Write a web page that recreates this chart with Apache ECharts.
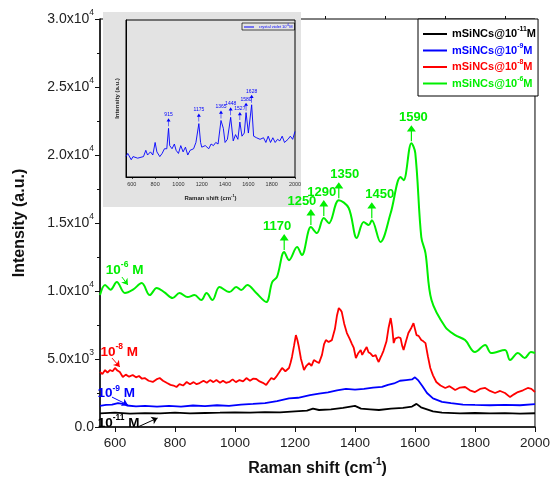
<!DOCTYPE html>
<html>
<head>
<meta charset="utf-8">
<script src="https://cdn.jsdelivr.net/npm/echarts@6/dist/echarts.min.js"></script>
<style>
  html, body { margin: 0; padding: 0; background: #fff; }
  #chart { width: 553px; height: 491px; }
</style>
</head>
<body>
<div id="chart"></div>
<script>
// Raman spectra, [shift cm-1, intensity]
const black11 = [[550,1000],[600,1050],[650,980],[700,1020],[750,1000],[800,1050],[850,1000],[900,1030],[950,1050],[1000,1080],[1050,1050],[1100,1100],[1150,1080],[1200,1150],[1240,1200],[1260,1350],[1280,1250],[1320,1300],[1360,1400],[1400,1550],[1420,1350],[1450,1300],[1480,1250],[1520,1350],[1560,1400],[1590,1500],[1605,1700],[1620,1450],[1640,1300],[1660,1150],[1690,1050],[1750,1000],[1800,1030],[1850,1000],[1900,1020],[1950,990],[2000,1010]];

const blue9 = [[550,1560],[570,1620],[590,1650],[610,1760],[625,1700],[640,1580],[670,1520],[700,1560],[740,1500],[780,1560],[820,1500],[860,1580],[900,1530],[940,1600],[980,1560],[1020,1650],[1060,1700],[1100,1760],[1140,1900],[1180,2100],[1210,2150],[1250,2350],[1280,2450],[1310,2550],[1340,2700],[1370,2800],[1400,2750],[1430,2800],[1460,2900],[1490,2950],[1510,3100],[1530,3200],[1550,3400],[1570,3450],[1590,3500],[1600,3650],[1610,3450],[1625,3000],[1640,2500],[1660,2100],[1690,1850],[1720,1750],[1760,1650],[1800,1620],[1850,1600],[1900,1620],[1950,1600],[2000,1680]];

const red8 = [[550,4040],[558,3900],[567,4190],[575,4000],[583,4190],[592,4100],[600,4340],[608,4150],[616,4040],[626,3680],[636,3850],[647,3700],[659,3820],[670,3650],[680,3750],[690,3550],[699,3600],[712,3400],[726,3310],[738,3500],[749,3600],[760,3400],[772,3250],[785,3100],[795,3050],[805,2940],[815,3150],[827,3050],[839,3310],[850,3150],[862,3300],[872,3150],[882,3230],[895,3400],[906,3250],[917,3450],[928,3300],[938,3450],[950,3250],[960,3400],[970,3250],[981,3310],[992,3500],[1003,3300],[1015,3450],[1027,3350],[1038,3600],[1050,3400],[1060,3550],[1071,3530],[1082,3350],[1093,3250],[1104,3090],[1112,3350],[1121,3600],[1130,3500],[1137,3680],[1147,4000],[1157,4340],[1168,4100],[1180,4340],[1185,4700],[1190,5150],[1197,6000],[1203,6760],[1208,6400],[1213,5880],[1220,5000],[1230,4190],[1238,4500],[1247,4700],[1255,4500],[1263,4920],[1272,4800],[1280,4700],[1290,5300],[1297,6100],[1303,6390],[1312,6250],[1323,6390],[1333,7200],[1340,8200],[1346,8750],[1352,8600],[1356,8450],[1364,7600],[1373,6910],[1382,6500],[1390,6100],[1396,5810],[1403,5070],[1410,5400],[1419,5660],[1424,5300],[1429,5290],[1434,5700],[1439,5880],[1445,5500],[1452,5400],[1460,5200],[1469,5290],[1474,5000],[1479,4780],[1485,5100],[1489,5290],[1495,5600],[1505,6300],[1512,7300],[1519,8010],[1524,7300],[1529,6170],[1534,6500],[1539,6390],[1545,6600],[1552,6540],[1557,6000],[1562,5660],[1570,6300],[1578,6910],[1588,7300],[1595,7640],[1600,7500],[1605,6760],[1612,6700],[1621,6390],[1628,6300],[1635,6170],[1643,5200],[1651,4340],[1660,3800],[1671,3310],[1685,3050],[1701,2870],[1715,3000],[1734,2720],[1750,2900],[1767,2940],[1783,2700],[1800,2570],[1817,2800],[1834,2870],[1850,2650],[1867,2500],[1884,2650],[1900,2500],[1917,2200],[1930,2400],[1943,2570],[1960,2700],[1976,2870],[1988,2800],[2000,2570]];

const green6 = [[550,9700],[567,10440],[585,10100],[606,10660],[633,9850],[660,10100],[689,10580],[716,9700],[739,10220],[765,9900],[792,9480],[815,9850],[842,9550],[865,9700],[888,9330],[905,9850],[925,9330],[948,10290],[981,9920],[1004,10290],[1021,10070],[1041,10440],[1071,9850],[1104,9190],[1124,10660],[1140,11030],[1164,12860],[1180,12270],[1207,13230],[1223,12640],[1253,14700],[1273,14260],[1296,15360],[1313,14990],[1346,16680],[1379,16100],[1406,13890],[1429,15070],[1446,14850],[1456,15210],[1485,13600],[1519,15730],[1552,18380],[1562,18150],[1588,20870],[1601,20140],[1621,13960],[1635,12790],[1655,9330],[1701,7350],[1734,6760],[1767,6390],[1800,5510],[1834,6030],[1854,5440],[1900,5660],[1917,4920],[1943,5440],[1966,5070],[1986,5510],[2000,5440]];

// inset: crystal violet reference spectrum (arbitrary units)
const insetCV = [[550,13],[565,15],[580,14],[595,11],[610,13],[650,12],[700,13],[720,17],[735,14],[760,16],[780,14],[800,22],[815,16],[840,13],[860,15],[880,18],[900,18],[915,31],[925,20],[945,18],[965,21],[980,17],[1000,15],[1020,20],[1040,16],[1060,19],[1080,14],[1100,17],[1130,18],[1150,22],[1175,34],[1190,22],[1200,19],[1230,20],[1260,18],[1280,21],[1300,20],[1320,22],[1340,21],[1365,36],[1385,31],[1400,22],[1420,24],[1448,38],[1470,23],[1490,27],[1510,24],[1527,35],[1545,26],[1565,28],[1580,41],[1600,28],[1628,46],[1645,26],[1670,25],[1700,24],[1730,25],[1750,22],[1770,26],[1790,22],[1810,25],[1830,22],[1850,24],[1870,23],[1890,26],[1910,22],[1940,24],[1960,26],[1980,24],[2000,29]];

// peak annotations
const peakLabels = ['1170', '1250', '1290', '1350', '1450', '1590'];
const peakX = [1164, 1253, 1296, 1346, 1456, 1588];
const peakY = [12860, 14700, 15360, 16680, 15210, 20870];
const peakTextShift = [-7, -9, -2, 6, 8, 2];
const insetPeakX = [915, 1175, 1365, 1448, 1527, 1580, 1628];
const insetPeakY = [31, 34, 36, 38, 35, 41, 46];

const xMajor = [600, 800, 1000, 1200, 1400, 1600, 1800, 2000];
const xMinor = [700, 900, 1100, 1300, 1500, 1700, 1900];

const FONT = 'Liberation Sans, Arial, sans-serif';
const arrowPath = 'path://M5,0 L9.5,8 L5.6,8 L5.6,20 L4.4,20 L4.4,8 L0.5,8 Z';

const chart = echarts.init(document.getElementById('chart'));

// base + raised superscript
function supRich(color, size, supSize, weight) {
  const w = weight || 'bold';
  return {
    a: { color: color, fontSize: size, fontWeight: w, fontFamily: FONT },
    s: { color: color, fontSize: supSize, fontWeight: w, fontFamily: FONT, padding: [0, 0, Math.round(size * 0.85), 0] }
  };
}

// text label + small arrow for concentration
function concLabel(sup, color, at, from, to) {
  return {
    markPoint: {
      silent: true,
      data: [{
        coord: at, symbol: 'circle', symbolSize: 0,
        label: { show: true, position: 'inside', formatter: '{a|10}{s|' + sup + '}{a| M}', rich: supRich(color, 13.5, 8.5) }
      }]
    },
    markLine: {
      silent: true, symbol: ['none', 'arrow'], symbolSize: 6,
      lineStyle: { color: color, width: 1, type: 'solid' },
      label: { show: false },
      data: [[{ coord: from }, { coord: to }]]
    }
  };
}

const c11 = concLabel('-11', '#000', [612, 250], [676, 0], [742, 660]);
const c9 = concLabel('-9', '#0000ff', [604, 2450], [590, 2200], [643, 1620]);
const c8 = concLabel('-8', '#ff0000', [614, 5510], [590, 5070], [616, 4410]);
const c6 = concLabel('-6', '#00ee00', [632, 11540], [623, 11030], [643, 10440]);

// green peak arrows
peakLabels.forEach((t, i) => {
  c6.markPoint.data.push({
    name: t, coord: [peakX[i], peakY[i]],
    symbol: arrowPath, symbolSize: [9, 16], symbolOffset: [0, -10],
    itemStyle: { color: '#00ee00' },
    label: { show: true, position: 'top', distance: 1, offset: [peakTextShift[i], 0], formatter: '{b}', color: '#00ee00', fontWeight: 'bold', fontSize: 13, fontFamily: FONT }
  });
});

const insetMarks = insetPeakX.map((x, i) => ({
  name: String(x), coord: [x, insetPeakY[i]],
  symbol: arrowPath, symbolSize: [4, 8], symbolOffset: [0, -6],
  itemStyle: { color: '#0000ff' },
  label: { show: true, position: 'top', distance: 1, formatter: '{b}', color: '#0000ff', fontSize: 5, fontFamily: FONT }
}));

function yFmt(v) {
  if (v === 0) return '{a|0.0}';
  const e = Math.floor(Math.log10(v));
  const m = (v / Math.pow(10, e)).toFixed(1);
  return '{a|' + m + 'x10}{s|' + e + '}';
}

const legendNames = ['mSiNCs@10-11M', 'mSiNCs@10-9M', 'mSiNCs@10-8M', 'mSiNCs@10-6M'];
const legendColors = ['#000', '#0000ff', '#ff0000', '#00ee00'];

chart.setOption({
  animation: false,
  textStyle: { fontFamily: FONT },
  graphic: {
    z: 1,
    elements: [{ type: 'rect', z: 1, shape: { x: 103, y: 12, width: 198, height: 195 }, style: { fill: '#e3e3e3' } }]
  },
  grid: [
    { left: 100, right: 15, top: 19, bottom: 64, show: true, borderColor: '#000', borderWidth: 1, z: 0 },
    { left: 126, right: 258, top: 20, bottom: 314, show: true, borderColor: '#000', borderWidth: 1, backgroundColor: '#e3e3e3', z: 3 }
  ],
  legend: [
    {
      data: legendNames.map((n, i) => ({ name: n, textStyle: { color: legendColors[i], rich: supRich(legendColors[i], 11, 7) } })),
      orient: 'vertical', left: 418, top: 19,
      padding: [7, 2, 7, 5], itemGap: 3, itemWidth: 24, itemHeight: 2, icon: 'rect',
      backgroundColor: '#fff', borderColor: '#000', borderWidth: 1,
      textStyle: { fontWeight: 'bold', fontSize: 11, fontFamily: FONT },
      formatter: n => n.replace(/10(-\d+)M/, '{a|10}{s|$1}{a|M}').replace(/^mSiNCs@/, '{a|mSiNCs@}')
    },
    {
      data: ['crystal violet 10-6M'],
      left: 242, top: 23, padding: [1, 2], itemWidth: 10, itemHeight: 1, itemGap: 2, icon: 'rect',
      borderColor: '#000', borderWidth: 0.7, z: 6,
      textStyle: { color: '#0000ff', fontSize: 4, fontFamily: FONT, rich: supRich('#0000ff', 4, 3, 'normal') },
      formatter: () => '{a|crystal violet 10}{s|-6}{a|M}'
    }
  ],
  xAxis: [
    {
      type: 'value', gridIndex: 0, min: 550, max: 2000,
      axisLine: { lineStyle: { color: '#111', width: 1.5 } },
      axisTick: { customValues: xMajor, length: 5, lineStyle: { color: '#111' } },
      axisLabel: { customValues: xMajor, formatter: v => String(v), fontSize: 13.5, color: '#222', margin: 9 },
      splitLine: { show: false },
      name: '{a|Raman shift (cm}{s|-1}{a|)}', nameLocation: 'middle', nameGap: 30,
      nameTextStyle: { rich: supRich('#111', 16, 10) }
    },
    {
      type: 'value', gridIndex: 0, min: 550, max: 2000,
      axisLine: { show: false },
      axisTick: { customValues: xMinor, length: 3, lineStyle: { color: '#111' } },
      axisLabel: { show: false }, splitLine: { show: false }
    },
    {
      type: 'value', gridIndex: 1, min: 550, max: 2000, z: 4,
      axisLine: { lineStyle: { color: '#000', width: 1 } },
      axisTick: { customValues: xMajor, length: 2, lineStyle: { color: '#000', width: 0.7 } },
      axisLabel: { customValues: xMajor, formatter: v => String(v), fontSize: 5.5, color: '#333', margin: 4 },
      splitLine: { show: false },
      name: '{a|Raman shift (cm}{s|-1}{a|)}', nameLocation: 'middle', nameGap: 17,
      nameTextStyle: { rich: supRich('#222', 6, 4) }
    }
  ],
  yAxis: [
    {
      type: 'value', gridIndex: 0, min: 0, max: 30000, interval: 5000,
      axisLine: { show: true, lineStyle: { color: '#111', width: 1.5 } },
      axisTick: { show: true, length: 5, lineStyle: { color: '#111' } },
      minorTick: { show: true, splitNumber: 2, length: 3, lineStyle: { color: '#111' } },
      axisLabel: { formatter: yFmt, margin: 6, rich: supRich('#222', 14, 8.5, 'normal') },
      splitLine: { show: false },
      name: 'Intensity (a.u.)', nameLocation: 'middle', nameGap: 72,
      nameTextStyle: { fontSize: 16, fontWeight: 'bold', color: '#111' }
    },
    {
      type: 'value', gridIndex: 1, min: 0, max: 100, z: 4,
      axisLine: { show: true, lineStyle: { color: '#000', width: 1 } },
      axisTick: { show: false }, axisLabel: { show: false }, splitLine: { show: false },
      name: 'Intensity (a.u.)', nameLocation: 'middle', nameGap: 6,
      nameTextStyle: { fontSize: 6, fontWeight: 'bold', color: '#222' }
    }
  ],
  series: [
    Object.assign({ name: legendNames[0], type: 'line', data: black11, showSymbol: false, color: '#000', lineStyle: { width: 1.8 }, z: 2 }, c11),
    Object.assign({ name: legendNames[1], type: 'line', data: blue9, showSymbol: false, color: '#0000ff', lineStyle: { width: 1.8 }, z: 2 }, c9),
    Object.assign({ name: legendNames[2], type: 'line', data: red8, showSymbol: false, color: '#ff0000', lineStyle: { width: 1.8 }, z: 2 }, c8),
    Object.assign({ name: legendNames[3], type: 'line', data: green6, showSymbol: false, smooth: 0.35, color: '#00ee00', lineStyle: { width: 2 }, z: 2 }, c6),
    {
      name: 'crystal violet 10-6M', type: 'line', xAxisIndex: 2, yAxisIndex: 1, data: insetCV,
      showSymbol: false, color: '#0000ff', lineStyle: { width: 0.9 }, z: 5,
      markPoint: { silent: true, data: insetMarks }
    }
  ]
});

window.addEventListener('resize', () => chart.resize());
</script>
</body>
</html>
